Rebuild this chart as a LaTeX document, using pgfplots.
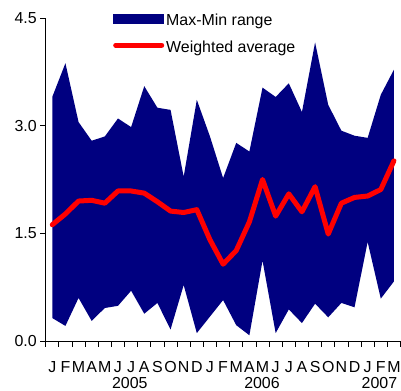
\documentclass[border=0pt]{standalone}
\usepackage{fontspec}
\setmainfont{Liberation Sans}
\usepackage{pgfplots}
\usepackage{pgfplotstable}
\pgfplotsset{compat=1.18}
\usepgfplotslibrary{fillbetween}

\definecolor{navyblue}{RGB}{0,0,128}

% month index, max, min, weighted average
\pgfplotstableread{
x upper lower avg
0  3.40 0.32 1.62
1  3.87 0.21 1.77
2  3.05 0.60 1.95
3  2.79 0.28 1.96
4  2.85 0.46 1.92
5  3.10 0.49 2.09
6  2.98 0.70 2.09
7  3.55 0.38 2.06
8  3.25 0.53 1.94
9  3.22 0.16 1.81
10 2.29 0.78 1.79
11 3.36 0.11 1.83
12 2.85 0.34 1.41
13 2.27 0.57 1.07
14 2.76 0.22 1.26
15 2.64 0.08 1.66
16 3.53 1.12 2.25
17 3.40 0.11 1.74
18 3.59 0.44 2.05
19 3.19 0.25 1.80
20 4.16 0.52 2.15
21 3.29 0.33 1.49
22 2.93 0.53 1.92
23 2.86 0.47 2.00
24 2.83 1.38 2.02
25 3.43 0.59 2.11
26 3.78 0.83 2.51
}\datatable

\begin{document}
\begin{tikzpicture}
\begin{axis}[
    scale only axis=true,
    width=354.8bp,
    height=323bp,
    xmin=-0.5, xmax=26.5,
    ymin=0, ymax=4.5,
    axis lines*=left,
    axis line style={line width=0.8bp},
    clip=false,
    font=\fontsize{16}{19}\selectfont,
    tick align=outside,
    major tick length=5.5bp,
    tick style={black, line width=0.8bp},
    ytick={0,1.5,3,4.5},
    yticklabel style={/pgf/number format/.cd, fixed, fixed zerofill, precision=1, assume math mode=true},
    xtick={-0.5,0.5,...,26.5},
    xticklabels={J,F,M,A,M,J,J,A,S,O,N,D,J,F,M,A,M,J,J,A,S,O,N,D,J,F,M,},
    xticklabel style={xshift=6.57bp, text height=11.7bp, text depth=0bp, inner sep=0pt, yshift=-14bp},
    legend style={at={(rel axis cs:0,1)}, anchor=north west, xshift=67.3bp, yshift=6.5bp,
        draw=none, fill=none, inner sep=0pt, row sep=8bp,
        nodes={text height=11.5bp, text depth=3.5bp, inner sep=2bp}},
    legend cell align=left,
]
\addplot[name path=upper, draw=none, forget plot] table[x=x, y=upper] {\datatable};
\addplot[name path=lower, draw=none, forget plot] table[x=x, y=lower] {\datatable};
\addplot[fill=navyblue, draw=none,
    legend image code/.code={\fill[navyblue] (0bp,-3bp) rectangle (51bp,7bp);}]
    fill between[of=upper and lower];
\addplot[red, line width=5bp, line join=round, line cap=round,
    legend image code/.code={\draw[red, line width=5bp, line cap=round] (2.5bp,3bp) -- (48.5bp,3bp);}]
    table[x=x, y=avg] {\datatable};
\legend{Max-Min range, Weighted average}

\coordinate (o) at (rel axis cs:0,0);
\node[anchor=base] at (axis cs:5.9,0) [yshift=-47bp] {2005};
\node[anchor=base] at (axis cs:15.96,0) [yshift=-47bp] {2006};
\node[anchor=base] at (axis cs:24.9,0) [yshift=-47bp] {2007};
\end{axis}
\pgfresetboundingbox
\path (o) ++(-45.7bp,-50bp) rectangle ++(401bp,391bp);
\end{tikzpicture}
\end{document}
